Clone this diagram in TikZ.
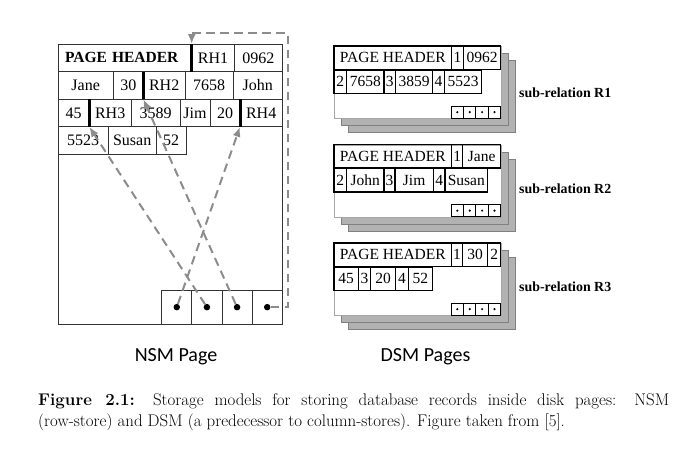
\documentclass[tikz,border=0pt]{standalone}
\usepackage{fontspec}
\newfontfamily\pagefont{Liberation Serif}
\newfontfamily\tagfont{Carlito}
\usepackage{tikz}
\usetikzlibrary{chains, positioning}
\usetikzlibrary{arrows.meta}
\tikzset{>={Latex[width=8pt,length=10pt]}}

\begin{document}
\begin{tikzpicture}[
    x = 1pt, y = -1pt,
    node distance = 0mm,
    ncell/.style = {draw=black!80, line width=0.7pt, minimum height=27.6pt,
        inner sep=0pt, outer sep=0mm, anchor=west, on chain,
        font=\pagefont\fontsize{16}{18}\selectfont},
    phead/.style = {text width=119.7pt, align=left,
        font=\pagefont\bfseries\fontsize{15.5}{18}\selectfont},
    scell/.style = {draw=black!80, line width=0.9pt, minimum width=30.15pt,
        minimum height=34.3pt, inner sep=0pt, outer sep=0mm, anchor=west, on chain},
    dcell/.style = {draw, line width=1.3pt, minimum height=23.5pt,
        inner sep=0pt, outer sep=0mm, anchor=west, on chain,
        font=\pagefont\fontsize{15.5}{17}\selectfont},
    tcell/.style = {draw, line width=0.9pt, minimum width=12.4pt,
        minimum height=11.7pt, inner sep=0pt, outer sep=0mm, anchor=west, on chain},
    ndot/.style = {circle, fill=black, inner sep=0pt, minimum size=6.5pt},
    page/.style = {draw=black!35, fill=white, line width=0.6pt,
        minimum width=166.7pt, minimum height=72pt, inner sep=0pt, anchor=north west},
    shadowpage/.style = {page, draw=black!50, fill=black!30},
    ptr/.style = {line width=3pt},
    link/.style = {draw=black!45, line width=2pt, dash pattern=on 8.5pt off 5.5pt, ->},
    rlabel/.style = {font=\pagefont\bfseries\fontsize{13.9}{16}\selectfont,
        inner sep=0pt, anchor=base west},
    tag/.style = {font=\tagfont\fontsize{20}{24}\selectfont, inner sep=0pt},
    caption/.style = {font=\fontsize{16.9}{21}\selectfont, inner sep=0pt, anchor=base west}
  ]
  \useasboundingbox (0,0) rectangle (689,458);

  % NSM page
  \node[draw=black!80, line width=1.1pt, minimum width=224.3pt, minimum height=280.3pt,
    inner sep=0pt, anchor=north west] (npage) at (58,44) {};

  \begin{scope}[shift={(58,57.8)}, start chain=r1 going right]
    \node[ncell, phead, minimum width=133.7pt] {PAGE HEADER};
    \foreach \t/\w in {RH1/42.6, 0962/48}
    \node[ncell, minimum width=\w pt] {\t};
  \end{scope}
  \begin{scope}[shift={(58,85.4)}, start chain=r2 going right]
    \foreach \t/\w in {Jane/55.3, 30/30, RH2/41.7, 7658/48.3, John/49}
    \node[ncell, minimum width=\w pt] {\t};
  \end{scope}
  \begin{scope}[shift={(58,113)}, start chain=r3 going right]
    \foreach \t/\w in {45/31.3, RH3/41.7, 3589/49, Jim/30, 20/30, RH4/42.3}
    \node[ncell, minimum width=\w pt] {\t};
  \end{scope}
  \begin{scope}[shift={(58,140.6)}, start chain=r4 going right]
    \foreach \t/\w in {5523/50.3, Susan/47.7, 52/30}
    \node[ncell, minimum width=\w pt] {\t};
  \end{scope}

  % slot array
  \begin{scope}[shift={(161.7,307.15)}, start chain=s going right]
    \foreach \i in {1,...,4}
    \node[scell] {};
  \end{scope}
  \foreach \i in {1,...,4}
  \node[ndot] (d\i) at (s-\i) {};

  % record headers
  \draw[ptr] (r1-2.north west) -- (r1-2.south west);
  \draw[ptr] (r2-3.north west) -- (r2-3.south west);
  \draw[ptr] (r3-2.north west) -- (r3-2.south west);
  \draw[ptr] (r3-6.north west) -- (r3-6.south west);

  % offsets
  \coordinate (turn) at (287.7,33.3);
  \draw[link] (d1) -- (r3-6.south west);
  \draw[link] (d2) -- (r3-2.south west);
  \draw[link] (d3) -- (r2-3.south west);
  \draw[link] (d4) -- (d4 -| turn) -- (turn) -- (turn -| r1-2.north west) -- (r1-2.north west);

  % DSM pages
  \foreach \k/\y/\b in {1/46/97, 2/144.5/193, 3/243/291} {
    \node[shadowpage] (p\k c) at (348,\y+14) {};
    \node[shadowpage] (p\k b) at (341,\y+7) {};
    \node[page] (p\k) at (334,\y) {};
    \begin{scope}[shift={(451.1,\y+66.15)}, start chain={t\k} going right]
      \foreach \i in {1,...,4}
      \node[tcell] {};
    \end{scope}
    \foreach \i in {1,...,4}
    \fill (t\k-\i.center) circle (1.2pt);
    \node[rlabel] (l\k) at (519,\b) {sub-relation R\k};
  }

  \begin{scope}[shift={(334,57.75)}, start chain=h1 going right]
    \foreach \t/\w in {PAGE HEADER/117.7, 1/11.6, 0962/37.4}
    \node[dcell, minimum width=\w pt] {\t};
  \end{scope}
  \begin{scope}[shift={(334,81.75)}, start chain=w1 going right]
    \foreach \t/\w in {2/12.7, 7658/37.3, 3/11.7, 3859/37, 4/11.6, 5523/37.4}
    \node[dcell, minimum width=\w pt] {\t};
  \end{scope}

  \begin{scope}[shift={(334,156.25)}, start chain=h2 going right]
    \foreach \t/\w in {PAGE HEADER/117.7, 1/11, Jane/38}
    \node[dcell, minimum width=\w pt] {\t};
  \end{scope}
  \begin{scope}[shift={(334,180.25)}, start chain=w2 going right]
    \foreach \t/\w in {2/12.7, John/37.3, 3/11, Jim/38.3, 4/11.7, Susan/42.7}
    \node[dcell, minimum width=\w pt] {\t};
  \end{scope}

  \begin{scope}[shift={(334,254.75)}, start chain=h3 going right]
    \foreach \t/\w in {PAGE HEADER/117.7, 1/10.6, 30/25.4, 2/13}
    \node[dcell, minimum width=\w pt] {\t};
  \end{scope}
  \begin{scope}[shift={(334,278.75)}, start chain=w3 going right]
    \foreach \t/\w in {45/24.3, 3/12.4, 20/25, 4/12.6, 52/24}
    \node[dcell, minimum width=\w pt] {\t};
  \end{scope}

  \node[tag] (nsm) at (176,357) {NSM Page};
  \node[tag] (dsm) at (425.5,357) {DSM Pages};

  \node[caption] (cap1) at (38,405) {\makebox[631pt][s]{\textbf{Figure 2.1:} Storage models for storing database records inside disk pages: NSM}};
  \node[caption] (cap2) at (38,426) {(row-store) and DSM (a predecessor to column-stores). Figure taken from [5].};
\end{tikzpicture}
\end{document}
